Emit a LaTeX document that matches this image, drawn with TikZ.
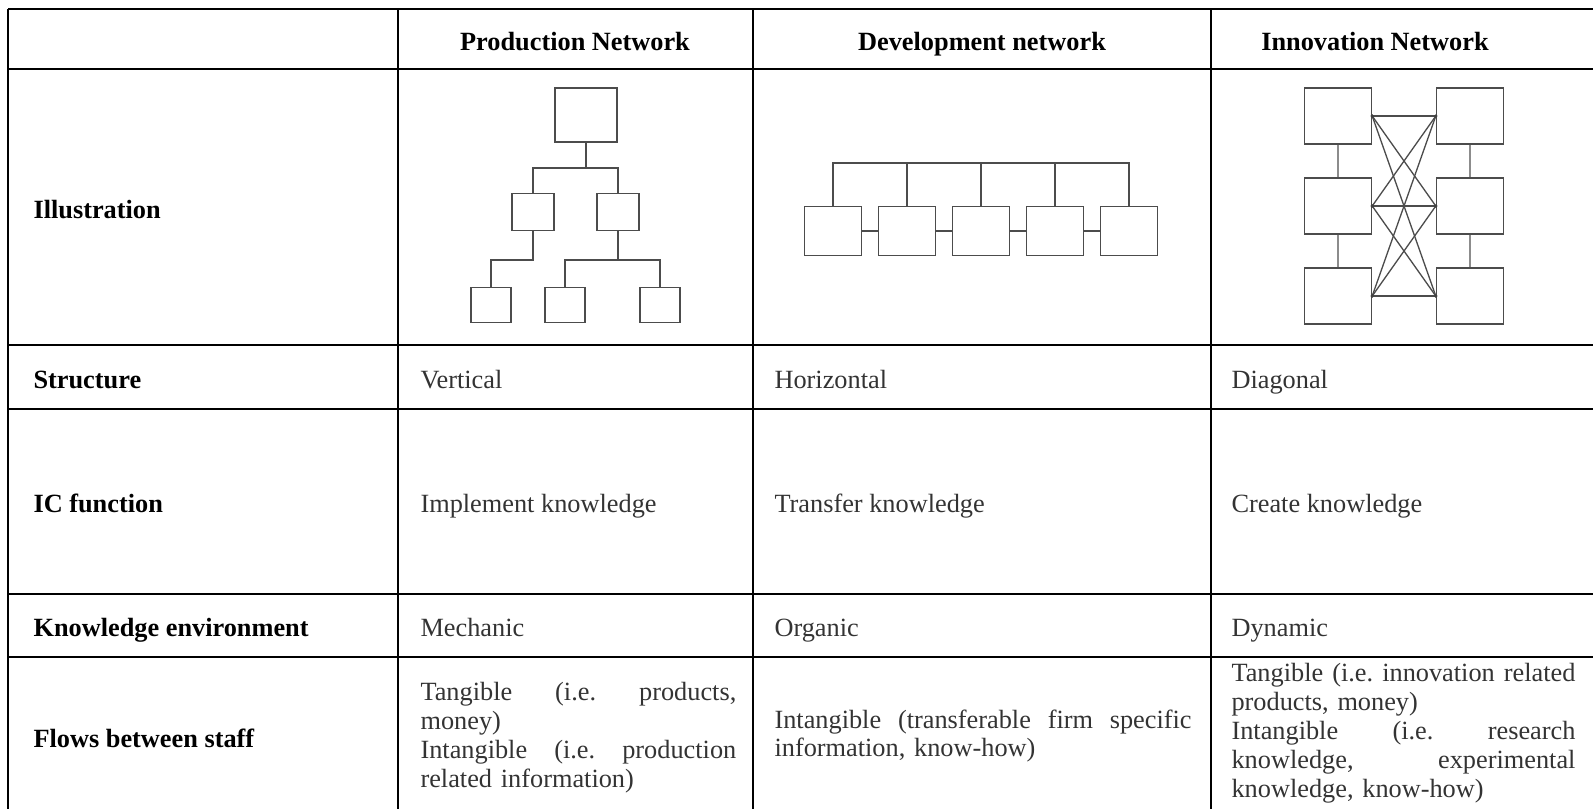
\documentclass[tikz,border=0pt]{standalone}
\usepackage{fontspec}
\setmainfont{Liberation Serif}
\usepackage{tikz}

% one justified line of a cell
\newcommand{\jline}[1]{\makebox[\hsize][s]{\spaceskip=0pt\xspaceskip=0pt #1}\\}

\begin{document}
\begin{tikzpicture}[x=0.38pt, y=-0.38pt,
    rule/.style={line width=0.9pt},
    rowlab/.style={anchor=west, inner sep=0pt, text height=8.8pt, text depth=0.4pt, font=\bfseries\fontsize{10}{11}\selectfont},
    colhead/.style={inner sep=0pt, text height=8.8pt, text depth=0.4pt, font=\bfseries\fontsize{10}{11}\selectfont},
    celltext/.style={anchor=west, inner sep=0pt, text=black!80, text height=8.8pt, text depth=0.4pt, font=\fontsize{10}{11}\selectfont},
    flowtext/.style={anchor=west, inner sep=0pt, text=black!80, align=left, font=\fontsize{10}{11}\selectfont\frenchspacing},
    netbox/.style={draw=black!70, line width=0.5pt, inner sep=0pt},
    link/.style={draw=black!70, line width=0.5pt}]
  \useasboundingbox (0,0) rectangle (1593,809);

  % table rules
  \foreach \y in {9,69,345,409,594,657}
    \draw[rule] (8,\y) -- (1593,\y);
  \foreach \x in {8,398,753,1211}
    \draw[rule] (\x,9) -- (\x,809);

  % column heads
  \node[colhead] (hProd) at ( 575,39) {Production Network};
  \node[colhead] (hDev)  at ( 982,39) {Development network};
  \node[colhead] (hInn)  at (1375,39) {Innovation Network};

  % row labels
  \node[rowlab] (rIll)  at (33,207) {Illustration};
  \node[rowlab] (rStr)  at (33,377) {Structure};
  \node[rowlab] (rIC)   at (33,501) {IC function};
  \node[rowlab] (rEnv)  at (33,625) {Knowledge environment};
  \node[rowlab] (rFlow) at (33,736) {Flows between staff};

  % production network: a tree
  \node[netbox, minimum width=23.6pt, minimum height=20.5pt] (p0) at (586,115) {};
  \node[netbox, minimum width=16pt,   minimum height=14pt]   (p1) at (533,212) {};
  \node[netbox, minimum width=16pt,   minimum height=14pt]   (p2) at (618,212) {};
  \node[netbox, minimum width=15.2pt, minimum height=13.3pt] (p3) at (491,305) {};
  \node[netbox, minimum width=15.2pt, minimum height=13.3pt] (p4) at (565,305) {};
  \node[netbox, minimum width=15.2pt, minimum height=13.3pt] (p5) at (660,305) {};
  \coordinate (j0) at (586,168);
  \coordinate (j1) at (533,260);
  \coordinate (j2) at (618,260);
  \draw[link] (p0) -- (j0);
  \draw[link] (p1.north) |- (j0) -| (p2.north);
  \draw[link] (p1) -- (j1) -| (p3.north);
  \draw[link] (p2) -- (j2);
  \draw[link] (p4.north) |- (j2) -| (p5.north);

  % development network: a row on one bus
  \foreach \i in {1,...,5}
    \node[netbox, minimum width=21.7pt, minimum height=18.6pt] (d\i) at ({833+74*(\i-1)},231) {};
  \coordinate (bus) at (981,163);
  \draw[link] (d1.north) |- (bus) -| (d5.north);
  \foreach \i in {2,3,4}
    \draw[link] (d\i.north) -- (d\i.north |- bus);
  \foreach \i/\j in {1/2,2/3,3/4,4/5}
    \draw[link] (d\i) -- (d\j);

  % innovation network: two columns, all crossed
  \foreach \r/\y in {1/116,2/206,3/296} {
    \node[netbox, minimum width=25.5pt, minimum height=21.3pt] (l\r) at (1338,\y) {};
    \node[netbox, minimum width=25.5pt, minimum height=21.3pt] (r\r) at (1470,\y) {};
  }
  \draw[link, draw=black!45] (l1) -- (l2) (l2) -- (l3) (r1) -- (r2) (r2) -- (r3);
  \foreach \a in {1,2,3}
    \foreach \b in {1,2,3}
      \draw[link] (l\a.east) -- (r\b.west);
  \foreach \a in {1,2,3}
    \fill[black!75] (l\a.east) circle[radius=1.8] (r\a.west) circle[radius=1.8];

  % structure
  \node[celltext] (sP) at ( 420,377) {Vertical};
  \node[celltext] (sD) at ( 774,377) {Horizontal};
  \node[celltext] (sI) at (1231,377) {Diagonal};

  % IC function
  \node[celltext] (fP) at ( 420,501) {Implement knowledge};
  \node[celltext] (fD) at ( 774,501) {Transfer knowledge};
  \node[celltext] (fI) at (1231,501) {Create knowledge};

  % knowledge environment
  \node[celltext] (eP) at ( 420,625) {Mechanic};
  \node[celltext] (eD) at ( 774,625) {Organic};
  \node[celltext] (eI) at (1231,625) {Dynamic};

  % flows between staff
  \node[flowtext, text width=120pt] (wP) at (420,738)
    {\jline{Tangible (i.e. products,}money)\\\jline{Intangible (i.e. production}related information)};
  \node[flowtext, text width=158.5pt] (wD) at (774,736)
    {\jline{Intangible (transferable firm specific}information, know-how)};
  \node[flowtext, text width=130.7pt, anchor=north west] (wI) at (1231,663)
    {\jline{Tangible (i.e. innovation related}products, money)\\\jline{Intangible (i.e. research}\jline{knowledge, experimental}knowledge, know-how)};
\end{tikzpicture}
\end{document}
